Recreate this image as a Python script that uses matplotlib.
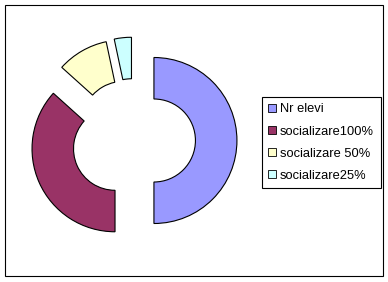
import matplotlib.pyplot as plt
from matplotlib.patches import Patch, Rectangle

# data
labels = ['Nr elevi', 'socializare100%', 'socializare 50%', 'socializare25%']
values = [30, 22, 6, 2]
colors = ['#9999FF', '#993366', '#FFFFCC', '#CCFFFF']

W, H = 388, 282
fig = plt.figure(figsize=(W / 100, H / 100), dpi=100)
plt.rcParams['font.family'] = ['Liberation Sans', 'DejaVu Sans']

ax = fig.add_axes([0, 0, 1, 1])
ax.pie(values, colors=colors, startangle=90, counterclock=False,
       explode=[0.245] * len(values), radius=1.0,
       wedgeprops=dict(width=0.5, edgecolor='black', linewidth=0.8))

# place donut centre at pixel (133.6, 140.5), radius 83 px
cx, cy, r = 133.6, 140.5, 83.0
ax.set_aspect('auto')
ax.set_xlim(-cx / r, (W - cx) / r)
ax.set_ylim(-(H - cy) / r, cy / r)
ax.axis('off')

# chart border
fig.patches.append(Rectangle((5 / W, 6 / H), 378 / W, 271 / H,
                             transform=fig.transFigure, fill=False,
                             edgecolor='black', linewidth=0.8))

handles = [Patch(facecolor=c, edgecolor='black', linewidth=0.6) for c in colors]
leg = fig.legend(handles, labels, loc='upper left',
                 bbox_to_anchor=(262 / W, 1 - 97 / H),
                 fontsize=9.3, frameon=True, fancybox=False,
                 edgecolor='black', framealpha=1,
                 handlelength=0.6, handleheight=0.6, handletextpad=0.3,
                 labelspacing=0.78, borderpad=0.5, borderaxespad=0)
leg.get_frame().set_linewidth(0.8)

fig.savefig('out.png', dpi=100)
